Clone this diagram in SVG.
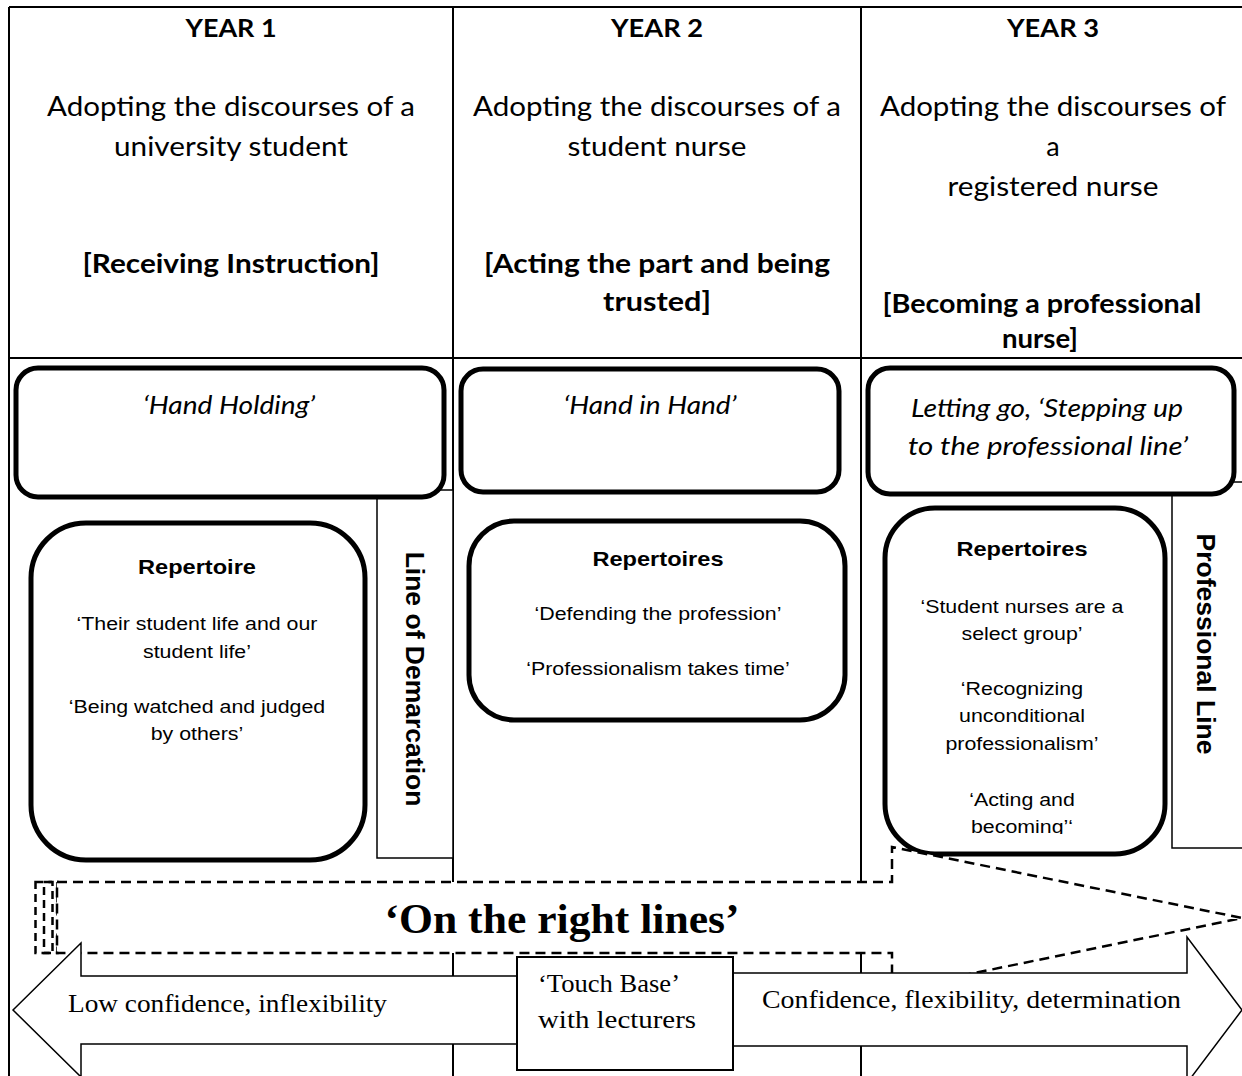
<svg xmlns="http://www.w3.org/2000/svg" width="1242" height="1076" viewBox="0 0 1242 1076">
<defs>
<style>
.tbl{stroke:#000;stroke-width:2;fill:none}
.thin{fill:#fff;stroke:#000;stroke-width:1.5}
.rbox{fill:#fff;stroke:#000;stroke-width:5}
.hdr{font-family:Lato,"Open Sans",sans-serif;font-size:27px;text-anchor:middle;fill:#000}
.yr{font-size:25px;font-weight:bold}
.bk{font-weight:bold}
.it{font-family:Lato,"Open Sans",sans-serif;font-style:italic;font-size:25px;text-anchor:middle;fill:#000}
.ar{font-family:"Liberation Sans",Arial,sans-serif;font-size:18.5px;text-anchor:middle;fill:#000;transform-box:fill-box;transform-origin:center;transform:scaleX(1.155)}
.arb{font-weight:bold;font-size:20px;transform:scaleX(1.18)}
.vt{font-family:"Liberation Sans",Arial,sans-serif;font-weight:bold;font-size:26.5px;text-anchor:middle;fill:#000}
.sf{font-family:"Liberation Serif","Times New Roman",serif;font-size:26px;fill:#000}
.big{font-family:"Liberation Serif","Times New Roman",serif;font-weight:bold;font-size:42px;text-anchor:middle;fill:#000}
.dash{fill:#fff;stroke:#000;stroke-width:2.5;stroke-dasharray:10 6}
.dashn{fill:none;stroke:#000;stroke-width:2.5;stroke-dasharray:8 5}
.arrow{fill:#fff;stroke:#000;stroke-width:1.5}
</style>
<clipPath id="clip3"><rect x="880" y="500" width="290" height="334"/></clipPath>
</defs>
<rect width="1242" height="1076" fill="#fff"/>
<g id="table" class="tbl">
<path d="M9,7 H1242 M9,7 V1076 M453,7 V1076 M861,7 V1076 M9,358 H1242"/>
</g>
<g id="year1-header">
<text class="hdr yr" x="231" y="37" textLength="91" lengthAdjust="spacingAndGlyphs">YEAR 1</text>
<text class="hdr" x="231" y="116" textLength="368" lengthAdjust="spacingAndGlyphs">Adopting the discourses of a</text>
<text class="hdr" x="231" y="156" textLength="234" lengthAdjust="spacingAndGlyphs">university student</text>
<text class="hdr bk" x="231" y="273" textLength="297" lengthAdjust="spacingAndGlyphs">[Receiving Instruction]</text>
</g>
<g id="year2-header">
<text class="hdr yr" x="657" y="37" textLength="92" lengthAdjust="spacingAndGlyphs">YEAR 2</text>
<text class="hdr" x="657" y="116" textLength="368" lengthAdjust="spacingAndGlyphs">Adopting the discourses of a</text>
<text class="hdr" x="657" y="156" textLength="179" lengthAdjust="spacingAndGlyphs">student nurse</text>
<text class="hdr bk" x="657" y="273" textLength="346" lengthAdjust="spacingAndGlyphs">[Acting the part and being</text>
<text class="hdr bk" x="657" y="311" textLength="108" lengthAdjust="spacingAndGlyphs">trusted]</text>
</g>
<g id="year3-header">
<text class="hdr yr" x="1053" y="37" textLength="92" lengthAdjust="spacingAndGlyphs">YEAR 3</text>
<text class="hdr" x="1053" y="116" textLength="346" lengthAdjust="spacingAndGlyphs">Adopting the discourses of</text>
<text class="hdr" x="1053" y="156">a</text>
<text class="hdr" x="1053" y="196" textLength="211" lengthAdjust="spacingAndGlyphs">registered nurse</text>
<text class="hdr bk" x="1042" y="313" textLength="319" lengthAdjust="spacingAndGlyphs">[Becoming a professional</text>
<text class="hdr bk" x="1040" y="348" textLength="76" lengthAdjust="spacingAndGlyphs">nurse]</text>
</g>
<g id="line-of-demarcation">
<rect class="thin" x="377" y="490" width="76" height="368"/>
<text class="vt" transform="translate(406,679) rotate(90)" x="0" y="0">Line of Demarcation</text>
</g>
<g id="professional-line">
<rect class="thin" x="1172" y="482" width="80" height="366"/>
<text class="vt" transform="translate(1197,644) rotate(90)" x="0" y="0">Professional Line</text>
</g>
<g id="hand-holding">
<rect class="rbox" x="16" y="368" width="428" height="129" rx="22"/>
<text class="it" x="229" y="414" textLength="172" lengthAdjust="spacingAndGlyphs">‘Hand Holding’</text>
</g>
<g id="hand-in-hand">
<rect class="rbox" x="461" y="369" width="378" height="123" rx="22"/>
<text class="it" x="650" y="414" textLength="173" lengthAdjust="spacingAndGlyphs">‘Hand in Hand’</text>
</g>
<g id="letting-go">
<rect class="rbox" x="868" y="368" width="366" height="126" rx="22"/>
<text class="it" x="1047" y="417" textLength="272" lengthAdjust="spacingAndGlyphs">Letting go, ‘Stepping up</text>
<text class="it" x="1048" y="455" textLength="280" lengthAdjust="spacingAndGlyphs">to the professional line’</text>
</g>
<g id="repertoire-1">
<rect class="rbox" x="31" y="523" width="334" height="337" rx="55"/>
<text class="ar arb" x="197" y="574">Repertoire</text>
<text class="ar" x="197" y="630">‘Their student life and our</text>
<text class="ar" x="197" y="658">student life’</text>
<text class="ar" x="197" y="713">‘Being watched and judged</text>
<text class="ar" x="197" y="740">by others’</text>
</g>
<g id="repertoire-2">
<rect class="rbox" x="469" y="521" width="376" height="199" rx="45"/>
<text class="ar arb" x="658" y="566">Repertoires</text>
<text class="ar" x="658" y="620">‘Defending the profession’</text>
<text class="ar" x="658" y="675">‘Professionalism takes time’</text>
</g>
<g id="repertoire-3">
<rect class="rbox" x="885" y="508" width="280" height="346" rx="50"/>
<g clip-path="url(#clip3)">
<text class="ar arb" x="1022" y="556">Repertoires</text>
<text class="ar" x="1022" y="613">‘Student nurses are a</text>
<text class="ar" x="1022" y="640">select group’</text>
<text class="ar" x="1022" y="695">‘Recognizing</text>
<text class="ar" x="1022" y="722">unconditional</text>
<text class="ar" x="1022" y="750">professionalism’</text>
<text class="ar" x="1022" y="806">‘Acting and</text>
<text class="ar" x="1022" y="833">becoming’‘</text>
</g>
</g>
<g id="connectors">
<rect class="dashn" x="35.5" y="882" width="17" height="71"/>
<rect class="dashn" x="44" y="882" width="13.5" height="71"/>
<polygon class="dash" points="57,882 892,882 892,847 1242,918 892,990 892,953 57,953"/>
<polygon class="arrow" points="13,1010 81,943 81,976 600,976 600,1044 81,1044 81,1077"/>
<polygon class="arrow" points="1242,1010 1187,937 1187,973 650,973 650,1046 1187,1046 1187,1083"/>
</g>
<g id="on-the-right-lines">
<text class="big" x="562" y="933" textLength="355" lengthAdjust="spacingAndGlyphs">‘On the right lines’</text>
</g>
<g id="low-confidence">
<text class="sf" x="68" y="1012" textLength="319" lengthAdjust="spacingAndGlyphs">Low confidence, inflexibility</text>
</g>
<g id="confidence">
<text class="sf" x="762" y="1008" textLength="419" lengthAdjust="spacingAndGlyphs">Confidence, flexibility, determination</text>
</g>
<g id="touch-base">
<rect x="517" y="957" width="216" height="113" fill="#fff" stroke="#000" stroke-width="2"/>
<text class="sf" x="538" y="992" textLength="142" lengthAdjust="spacingAndGlyphs">‘Touch Base’</text>
<text class="sf" x="538" y="1028" textLength="158" lengthAdjust="spacingAndGlyphs">with lecturers</text>
</g>
</svg>
